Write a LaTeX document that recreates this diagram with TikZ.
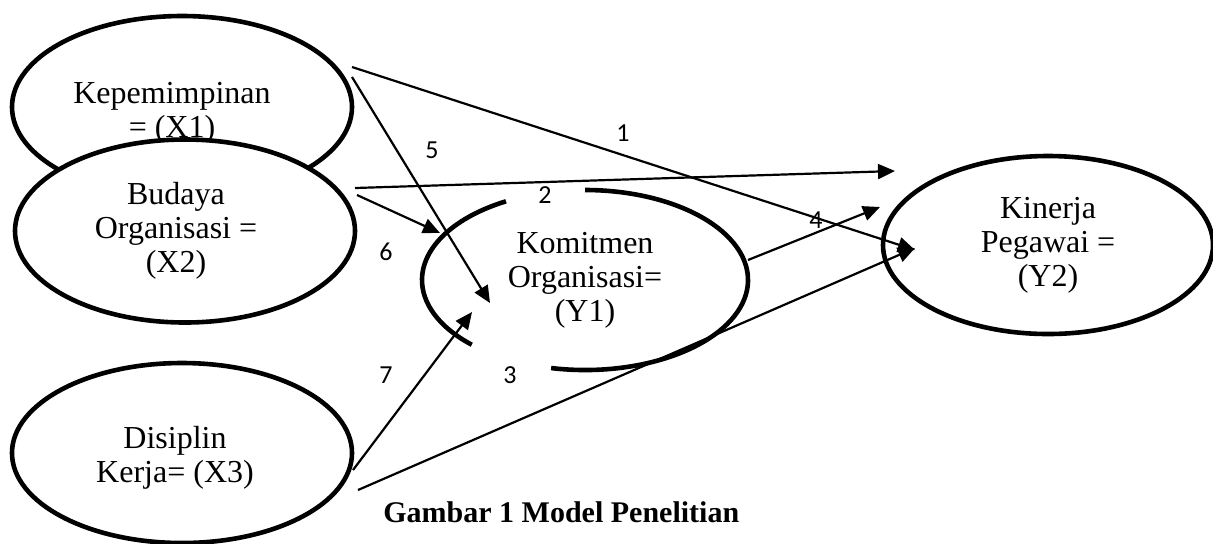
\documentclass[tikz,border=0pt]{standalone}
\usepackage{fontspec}
\setmainfont{Liberation Serif}
\newfontfamily\pathfont{Carlito}
\usetikzlibrary{arrows.meta}
\usetikzlibrary{shapes.geometric}
\tikzset{
  construct/.style={
    ellipse,
    draw,
    line width=2.3pt,
    fill=white,
    inner sep=0pt,
    align=center,
    font=\fontsize{16}{17}\selectfont
  },
  constructText/.style={
    inner sep=0pt,
    align=center,
    font=\fontsize{16}{17}\selectfont
  },
  pathArrow/.style={
    -{Triangle[length=8.5pt,width=7.5pt]},
    line width=1.1pt
  },
  pathLabel/.style={
    font=\pathfont\fontsize{13}{15}\selectfont,
    inner sep=0pt
  }
}

\begin{document}
\begin{tikzpicture}[x=0.5pt, y=0.5pt]
\def\Ya{81.5pt} % Y1 half width
\def\Yb{45pt}   % Y1 half height

\useasboundingbox (0,0) rectangle (1213,-543);

% === Variables ===
\node[construct, minimum width=170pt, minimum height=91pt] (X1) at (182,-107) {};
\node[constructText] (X1text) at ([shift={(-5pt,-3pt)}]X1.center) {Kepemimpinan\\= (X1)};
\node[construct, minimum width=170pt, minimum height=91.5pt] (X2) at (185,-231) {};
\node[constructText] (X2text) at ([shift={(-4.5pt,0pt)}]X2.center) {Budaya\\Organisasi =\\(X2)};
\node[construct, minimum width=170pt, minimum height=90pt] (X3) at (182,-453) {};
\node[constructText] (X3text) at ([shift={(-3.5pt,-2.5pt)}]X3.center) {Disiplin\\Kerja= (X3)};
\node[construct, minimum width=165pt, minimum height=89pt] (Y2) at (1048,-245) {Kinerja\\Pegawai =\\(Y2)};
\node[construct, draw=none, fill=none, minimum width=163pt, minimum height=90pt] (Y1) at (585,-280) {Komitmen\\Organisasi=\\(Y1)};

% Y1 border, broken where labels 2 and 3 sit
\draw[line width=2.3pt] ([shift={(-102:{\Ya} and {\Yb})}]Y1.center) arc[start angle=-102, end angle=90, x radius=\Ya, y radius=\Yb];
\draw[line width=2.3pt] ([shift={(119:{\Ya} and {\Yb})}]Y1.center) arc[start angle=119, end angle=226, x radius=\Ya, y radius=\Yb];

% === Path ends ===
\coordinate (p1s) at (352,-67);
\coordinate (p1e) at (915,-250);
\coordinate (p5s) at (352,-77);
\coordinate (p5e) at (490,-303);
\coordinate (p2s) at (355,-188);
\coordinate (p2e) at (895,-171);
\coordinate (p6s) at (357,-195);
\coordinate (p6e) at (440,-233);
\coordinate (p7s) at (353,-470);
\coordinate (p7e) at (472,-312);
\coordinate (p3s) at (358,-490);
\coordinate (p3e) at (915,-248);
\coordinate (p4s) at (748,-260);
\coordinate (p4e) at (880,-207);

% === Paths ===
\draw[pathArrow] (p1s) -- (p1e);
\draw[pathArrow] (p5s) -- (p5e);
\draw[pathArrow] (p2s) -- (p2e);
\draw[pathArrow] (p6s) -- (p6e);
\draw[pathArrow] (p7s) -- (p7e);
\draw[pathArrow] (p3s) -- (p3e);
\draw[pathArrow] (p4s) -- (p4e);

% Path numbers
\node[pathLabel] (lab1) at (623,-133) {1};
\node[pathLabel] (lab2) at (545,-195) {2};
\node[pathLabel] (lab3) at (510,-375) {3};
\node[pathLabel] (lab4) at (816,-220) {4};
\node[pathLabel] (lab5) at (432,-150) {5};
\node[pathLabel] (lab6) at (386,-252) {6};
\node[pathLabel] (lab7) at (386,-375) {7};

% Caption
\node[font=\bfseries\fontsize{15}{18}\selectfont, anchor=base west, inner sep=0pt] (caption) at (383,-522) {Gambar 1 Model Penelitian};

\end{tikzpicture}
\end{document}
